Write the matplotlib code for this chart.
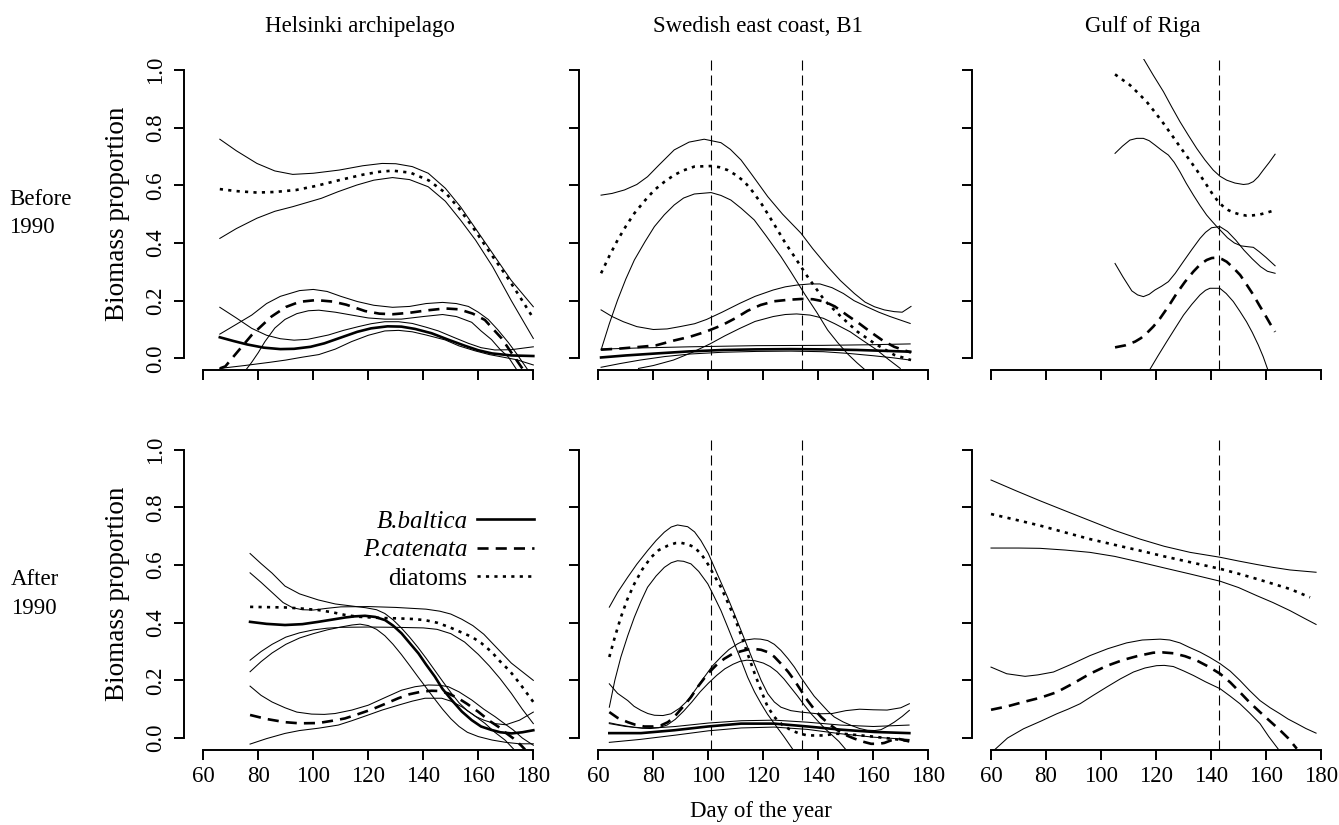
import matplotlib
matplotlib.use("Agg")
import matplotlib.pyplot as plt
from matplotlib.lines import Line2D

plt.rcParams['font.family'] = ['Liberation Serif', 'DejaVu Serif']

# ---- data: (day of year, biomass proportion) ----
# Helsinki archipelago, before 1990
hb_bb = [(66, 0.073), (71, 0.06), (76, 0.048), (82, 0.037), (88, 0.032), (93, 0.033), (99, 0.04), (104, 0.052),
         (110, 0.072), (116, 0.092), (121, 0.104), (127, 0.111), (132, 0.11), (137, 0.102), (143, 0.087),
         (149, 0.065), (155, 0.044), (160, 0.028), (165, 0.017), (172, 0.01), (180, 0.008)]
hb_bb_hi = [(66, 0.177), (72, 0.14), (77.6, 0.104), (83, 0.08), (88, 0.068), (93, 0.063), (98, 0.066),
            (105.5, 0.081), (111, 0.097), (116.4, 0.11), (121, 0.12), (126, 0.127), (131, 0.127), (136, 0.121),
            (141, 0.108), (145.5, 0.095), (151, 0.073), (156.4, 0.052), (161, 0.037), (166, 0.029), (172, 0.03),
            (180, 0.04)]
hb_bb_lo = [(66, -0.035), (75, -0.025), (84, -0.014), (90, -0.006), (96, 0.004), (102, 0.013), (108, 0.032),
            (113.9, 0.058), (120, 0.08), (126, 0.095), (131, 0.097), (136, 0.092), (141, 0.081), (147.9, 0.064),
            (153, 0.043), (158.8, 0.026), (164, 0.013), (168.5, 0.005), (174, -0.005), (180, -0.023)]
hb_pc = [(66, -0.035), (68, -0.028), (71.5, 0.012), (77.6, 0.081), (84.8, 0.145), (90, 0.178), (95, 0.196),
         (101, 0.202), (107, 0.197), (112, 0.186), (118.8, 0.164), (124, 0.155), (129, 0.153), (135, 0.158),
         (141, 0.166), (147.9, 0.173), (153, 0.17), (158, 0.155), (162.4, 0.133), (166, 0.095), (168.5, 0.069),
         (172, 0.02), (176, -0.035)]
hb_pc_hi = [(66, 0.084), (72, 0.118), (77.6, 0.15), (83, 0.19), (88, 0.215), (95, 0.235), (100, 0.239),
            (105, 0.232), (110, 0.215), (116, 0.197), (122, 0.184), (128.8, 0.177), (135, 0.18), (141, 0.19),
            (147, 0.194), (152, 0.19), (156.4, 0.18), (160, 0.16), (163.6, 0.135), (167, 0.1), (170.9, 0.055),
            (174, 0.015), (178, -0.04)]
hb_pc_lo = [(75.5, -0.04), (77.5, -0.015), (80, 0.02), (82.4, 0.058), (86, 0.105), (89.7, 0.135), (94, 0.155),
            (98.2, 0.165), (102, 0.167), (108, 0.16), (114, 0.15), (120, 0.14), (126, 0.136), (132, 0.136),
            (140, 0.145), (147, 0.152), (152, 0.145), (157.6, 0.125), (161, 0.095), (164.8, 0.065), (168, 0.03),
            (170.9, 0.005), (174, -0.04)]
hb_di = [(66, 0.587), (72, 0.58), (79.5, 0.575), (86, 0.577), (93.8, 0.584), (101, 0.598), (109.4, 0.618),
         (118, 0.637), (124, 0.647), (128.8, 0.651), (135.3, 0.644), (142, 0.617), (148.3, 0.572), (153, 0.52),
         (158.7, 0.445), (164, 0.37), (170.4, 0.283), (175, 0.215), (180, 0.139)]
hb_di_hi = [(66, 0.76), (72, 0.72), (79.5, 0.676), (86, 0.65), (92.5, 0.638), (100, 0.642), (109.4, 0.653),
            (118, 0.668), (125, 0.676), (130, 0.675), (136, 0.665), (141.8, 0.642), (148, 0.59), (153.5, 0.526),
            (159, 0.45), (165.2, 0.364), (172, 0.27), (180, 0.179)]
hb_di_lo = [(66, 0.416), (72, 0.45), (79.5, 0.486), (86, 0.51), (92.5, 0.526), (102.9, 0.555), (109, 0.578),
            (115.8, 0.601), (122, 0.618), (128.8, 0.627), (135, 0.62), (141.8, 0.595), (148, 0.545),
            (153.5, 0.48), (159, 0.41), (165.2, 0.318), (172, 0.2), (180, 0.069)]

# Swedish east coast, B1, before 1990
sb_bb = [(61, 0.003), (70, 0.01), (81.2, 0.017), (93, 0.024), (105.5, 0.029), (117, 0.031), (129.7, 0.032),
         (142, 0.031), (154, 0.029), (164, 0.026), (173.4, 0.023)]
sb_bb_hi = [(61, 0.032), (75, 0.036), (93.4, 0.04), (117.6, 0.044), (141.8, 0.045), (158, 0.047), (173.4, 0.05)]
sb_bb_lo = [(61, -0.031), (68, -0.018), (75.2, -0.006), (84, 0.006), (93.4, 0.015), (105, 0.021), (117.6, 0.024),
            (130, 0.025), (141.8, 0.023), (151, 0.017), (160, 0.009), (167, 0.002), (173.4, -0.006)]
sb_pc = [(61, 0.03), (68, 0.034), (75.5, 0.04), (81, 0.045), (87.6, 0.062), (93.4, 0.075), (99, 0.092),
         (105, 0.115), (110, 0.14), (114.3, 0.165), (119, 0.185), (124, 0.198), (129, 0.203), (134, 0.206),
         (138, 0.205), (142.2, 0.197), (146, 0.18), (150.7, 0.148), (155, 0.12), (159.2, 0.09), (163.7, 0.06),
         (167.6, 0.04), (173.7, 0.02)]
sb_pc_hi = [(61, 0.168), (65, 0.145), (69.1, 0.127), (74, 0.11), (80, 0.1), (85, 0.102), (89.7, 0.11), (95, 0.12),
            (99.4, 0.135), (105, 0.16), (111.5, 0.191), (117, 0.215), (123.6, 0.237), (128, 0.248),
            (132.1, 0.254), (137, 0.258), (140.6, 0.258), (145, 0.245), (149.1, 0.225), (153, 0.2),
            (157.6, 0.179), (162, 0.16), (166.1, 0.145), (173.4, 0.121)]
sb_pc_lo = [(74.6, -0.035), (80, -0.025), (87.3, -0.006), (94, 0.02), (100.6, 0.05), (106, 0.078), (111.5, 0.104),
            (117, 0.128), (123.6, 0.145), (128, 0.152), (132.1, 0.154), (137, 0.15), (141.8, 0.139), (146, 0.12),
            (151.6, 0.092), (156, 0.063), (161.3, 0.029), (165, 0.0), (169.8, -0.035)]
sb_di = [(61, 0.295), (64, 0.355), (67, 0.41), (70, 0.458), (73.1, 0.503), (77, 0.548), (80.4, 0.584), (84, 0.612),
         (87.6, 0.636), (91, 0.652), (94.9, 0.665), (101, 0.667), (104, 0.663), (107, 0.653), (110, 0.636),
         (113.1, 0.613), (116, 0.58), (119.2, 0.538), (122, 0.495), (125.2, 0.445), (128, 0.4), (131.3, 0.353),
         (136.1, 0.283), (142.2, 0.202), (148.2, 0.145), (154.3, 0.092), (160.4, 0.052), (167.6, 0.012),
         (173.7, -0.006)]
sb_di_hi = [(61, 0.566), (65, 0.572), (69.5, 0.584), (74, 0.603), (77.9, 0.63), (82, 0.67), (87.6, 0.723),
            (93, 0.75), (98.5, 0.76), (104.6, 0.748), (108, 0.725), (111.9, 0.688), (116, 0.635), (121.6, 0.561),
            (127, 0.5), (133.7, 0.434), (138, 0.38), (143.4, 0.318), (148, 0.27), (153.1, 0.225), (157, 0.195),
            (160.4, 0.179), (164, 0.168), (167.6, 0.162), (170.5, 0.16), (173.7, 0.18)]
sb_di_lo = [(61, 0.029), (64, 0.12), (67, 0.202), (70, 0.275), (73.1, 0.341), (77, 0.405), (80.4, 0.457),
            (84, 0.498), (87.6, 0.532), (91, 0.556), (94.9, 0.57), (101, 0.575), (104.6, 0.565), (108.2, 0.549),
            (112, 0.52), (116.7, 0.48), (121, 0.425), (126.4, 0.353), (130, 0.3), (134.9, 0.225), (139.4, 0.16),
            (143.4, 0.098), (147, 0.055), (150.7, 0.015), (154, -0.015), (157, -0.04)]

# Gulf of Riga, before 1990 (no B. baltica curves)
rb_pc = [(105.1, 0.038), (108.8, 0.045), (112.4, 0.058), (114.5, 0.07), (116.6, 0.087), (119, 0.11),
         (121.5, 0.139), (124.5, 0.18), (127.5, 0.225), (130.5, 0.265), (133.6, 0.301), (136, 0.325),
         (138.4, 0.341), (140.3, 0.348), (142.1, 0.349), (144, 0.344), (145.7, 0.335), (148, 0.315),
         (150.6, 0.289), (153, 0.255), (155.4, 0.22), (157.5, 0.185), (159.7, 0.15), (161.5, 0.12), (163.3, 0.092)]
rb_pc_hi = [(105.1, 0.329), (108, 0.282), (111.2, 0.234), (113.3, 0.22), (115.4, 0.214), (117.5, 0.222),
            (119.6, 0.237), (122, 0.25), (124.5, 0.266), (127, 0.295), (129.9, 0.335), (133, 0.377), (136, 0.416),
            (138, 0.437), (140.2, 0.453), (143.2, 0.457), (146, 0.44), (149, 0.41), (152, 0.375), (155, 0.345),
            (158, 0.318), (160.5, 0.302), (163.3, 0.295)]
rb_pc_lo = [(113, -0.11), (117.8, -0.038), (120.8, 0.01), (123.9, 0.058), (127, 0.105), (130, 0.15), (133, 0.187),
            (136, 0.22), (138, 0.236), (139.6, 0.243), (143.2, 0.243), (145.5, 0.225), (148.1, 0.197),
            (150.5, 0.163), (152.9, 0.127), (155, 0.09), (157.2, 0.046), (159, 0.005), (160.6, -0.038),
            (163, -0.11)]
rb_di = [(105.1, 0.985), (108, 0.965), (110.5, 0.948), (113.5, 0.92), (116.6, 0.89), (119.5, 0.855),
         (122.7, 0.815), (125.7, 0.775), (128.7, 0.734), (131.8, 0.693), (134.8, 0.653), (137.8, 0.61),
         (140.8, 0.566), (142.7, 0.543), (144.5, 0.526), (146.3, 0.514), (148.1, 0.506), (150.5, 0.499),
         (152.9, 0.495), (155.3, 0.496), (157.8, 0.499), (160.5, 0.506), (163.3, 0.514)]
rb_di_hi = [(113, 1.08), (115.4, 1.04), (119, 0.982), (122.7, 0.925), (125.7, 0.872), (128.7, 0.821),
            (131.8, 0.773), (134.8, 0.728), (137.8, 0.688), (140.8, 0.653), (143.2, 0.632), (145.7, 0.618),
            (148.7, 0.608), (151.8, 0.603), (153.6, 0.605), (155.4, 0.613), (157.2, 0.63), (159, 0.653),
            (161.2, 0.68), (163.3, 0.708)]
rb_di_lo = [(105.1, 0.711), (107.8, 0.736), (110.5, 0.757), (113, 0.763), (115.4, 0.763), (117.5, 0.755),
            (119.6, 0.74), (122, 0.722), (124.5, 0.705), (126.6, 0.68), (128.7, 0.647), (131, 0.607),
            (133.6, 0.566), (136, 0.53), (138.4, 0.497), (140.3, 0.476), (142.1, 0.457), (144, 0.438),
            (146, 0.418), (148.5, 0.4), (151, 0.39), (153.5, 0.387), (155.4, 0.385), (157.5, 0.37), (160, 0.35),
            (163.3, 0.321)]

# Helsinki archipelago, after 1990
ha_bb = [(77, 0.403), (83, 0.396), (89.7, 0.392), (96, 0.395), (101.8, 0.403), (107, 0.411), (111.5, 0.418),
         (115, 0.422), (118.8, 0.424), (122.5, 0.42), (126.1, 0.409), (129, 0.39), (132.1, 0.363), (135, 0.33),
         (138.2, 0.294), (141, 0.255), (144.2, 0.213), (147, 0.17), (150.3, 0.132), (154, 0.092), (157.6, 0.062),
         (161, 0.04), (164.8, 0.028), (168, 0.02), (172.1, 0.016), (176, 0.02), (180, 0.027)]
ha_bb_hi = [(77, 0.64), (81, 0.605), (85, 0.572), (89.7, 0.527), (95, 0.5), (101.8, 0.479), (108, 0.465),
            (113.9, 0.458), (119, 0.452), (123, 0.445), (126, 0.432), (129, 0.41), (132, 0.382), (135, 0.35),
            (138, 0.315), (141, 0.277), (144, 0.237), (147, 0.197), (150, 0.158), (153, 0.122), (156, 0.095),
            (159, 0.075), (162, 0.062), (166, 0.05), (170, 0.046), (175, 0.062), (180, 0.09)]
ha_bb_lo = [(77, 0.23), (81, 0.265), (85, 0.295), (90, 0.325), (95, 0.347), (100, 0.362), (105, 0.375),
            (110, 0.385), (114, 0.392), (117, 0.395), (120, 0.39), (123, 0.377), (126, 0.355), (129, 0.325),
            (132, 0.29), (135, 0.252), (138, 0.213), (141, 0.175), (144, 0.137), (147, 0.1), (150, 0.067),
            (153, 0.04), (156, 0.02), (160, 0.005), (165, -0.007), (170, -0.015), (175, -0.02), (180, -0.02)]
ha_pc = [(77, 0.08), (83, 0.066), (89.7, 0.055), (95, 0.051), (101.8, 0.052), (107, 0.06), (111.5, 0.068),
         (116, 0.082), (121.2, 0.099), (126, 0.118), (130.9, 0.138), (135, 0.152), (139.4, 0.161), (143, 0.164),
         (146, 0.163), (149, 0.155), (152.7, 0.138), (156, 0.118), (160, 0.091), (164, 0.06), (167.3, 0.039),
         (170, 0.018), (172.7, -0.001), (175.5, -0.025), (177, -0.04)]
ha_pc_hi = [(77, 0.18), (81, 0.148), (85, 0.125), (89.7, 0.105), (94, 0.09), (99.4, 0.083), (104, 0.082),
            (107.9, 0.085), (114, 0.097), (120, 0.114), (126, 0.14), (132.1, 0.166), (137, 0.178), (141.8, 0.184),
            (146, 0.183), (149.1, 0.178), (153, 0.16), (157.6, 0.132), (162, 0.1), (166.1, 0.074), (169.5, 0.05),
            (172.7, 0.028), (176, 0.0), (180, -0.025)]
ha_pc_lo = [(77, -0.021), (83, -0.002), (89.7, 0.016), (95, 0.026), (101.8, 0.034), (109.1, 0.045), (114, 0.06),
            (120, 0.08), (125, 0.097), (130.9, 0.114), (136, 0.128), (140.6, 0.138), (146.7, 0.138), (150, 0.128),
            (153.9, 0.109), (158, 0.082), (162.4, 0.051), (166, 0.02), (169.7, -0.007), (173, -0.04)]
ha_di = [(77, 0.455), (83, 0.454), (89.7, 0.453), (96, 0.449), (101.8, 0.444), (107, 0.436), (111.5, 0.427),
         (116, 0.421), (121.2, 0.418), (126, 0.416), (130.9, 0.415), (136, 0.413), (140.6, 0.409), (145, 0.4),
         (149.1, 0.386), (153, 0.37), (157.6, 0.351), (161, 0.33), (164.8, 0.299), (168, 0.265), (171.5, 0.232),
         (175, 0.19), (180, 0.125)]
ha_di_hi = [(77, 0.573), (81, 0.54), (85, 0.505), (89, 0.47), (92.5, 0.452), (96, 0.445), (100, 0.444),
            (105, 0.45), (110, 0.455), (120, 0.456), (130, 0.453), (141, 0.447), (146, 0.44), (150, 0.43),
            (154, 0.412), (158, 0.39), (162, 0.36), (165, 0.33), (168, 0.3), (172, 0.26), (176, 0.23), (180, 0.2)]
ha_di_lo = [(77, 0.27), (81, 0.3), (85, 0.325), (90, 0.35), (95, 0.365), (100, 0.375), (105, 0.381), (110, 0.384),
            (120, 0.385), (130, 0.384), (140, 0.382), (145, 0.377), (150, 0.362), (155, 0.333), (160, 0.29),
            (164, 0.25), (168, 0.205), (172, 0.155), (176, 0.1), (180, 0.05)]

# Swedish east coast, B1, after 1990
sa_bb = [(64, 0.017), (75.5, 0.017), (87.6, 0.027), (99.8, 0.04), (111.9, 0.05), (124, 0.05), (136.1, 0.04),
         (148.2, 0.029), (160.4, 0.021), (173.1, 0.017)]
sa_bb_hi = [(64, 0.05), (70, 0.04), (76, 0.035), (82, 0.036), (88, 0.04), (100, 0.052), (112, 0.06), (124, 0.062),
            (136, 0.055), (148, 0.045), (160, 0.04), (173, 0.045)]
sa_bb_lo = [(64, -0.015), (75, -0.005), (88, 0.01), (100, 0.025), (112, 0.035), (124, 0.038), (136, 0.03),
            (148, 0.015), (160, 0.003), (173, -0.005)]
sa_pc = [(64, 0.09), (67, 0.07), (70.7, 0.055), (73.5, 0.046), (76.7, 0.04), (79.8, 0.04), (82.8, 0.044),
         (85.3, 0.055), (87.6, 0.073), (90.5, 0.105), (93.7, 0.142), (96.5, 0.182), (99.8, 0.223), (102.8, 0.252),
         (105.8, 0.275), (108.8, 0.292), (111.9, 0.301), (114.3, 0.307), (116.7, 0.309), (119.2, 0.306),
         (121.6, 0.298), (124, 0.282), (126.4, 0.258), (129, 0.23), (131.3, 0.2), (133.7, 0.165), (136.1, 0.13),
         (138.5, 0.1), (141, 0.073), (144, 0.048), (147, 0.027), (150, 0.01), (153.1, -0.002), (156, -0.012),
         (159.2, -0.02), (162, -0.02), (164, -0.017), (166.5, -0.008), (168.8, -0.002), (171, -0.007),
         (173.1, -0.012)]
sa_pc_hi = [(64, 0.188), (67, 0.155), (70.7, 0.13), (73, 0.11), (75.5, 0.096), (78, 0.085), (80.4, 0.079),
            (83.5, 0.078), (86.4, 0.084), (89.5, 0.103), (92.5, 0.13), (95.5, 0.17), (98.5, 0.211), (101.5, 0.25),
            (104.6, 0.281), (107.5, 0.307), (110.7, 0.327), (113.5, 0.34), (116.7, 0.344), (119, 0.343),
            (121.6, 0.338), (124, 0.325), (126.4, 0.304), (129, 0.275), (131.3, 0.246), (133.7, 0.21),
            (136.1, 0.177), (138.5, 0.145), (141, 0.119), (143.5, 0.093), (145.8, 0.073), (149, 0.056),
            (151.9, 0.044), (155, 0.033), (157.9, 0.027), (160.5, 0.026), (162.8, 0.029), (165, 0.04),
            (167.6, 0.055), (170.5, 0.075), (173.1, 0.096)]
sa_pc_lo = [(64, 0.053), (67, 0.047), (70, 0.042), (73, 0.037), (76, 0.034), (79, 0.033), (82, 0.036), (85, 0.045),
            (88, 0.065), (91, 0.093), (94, 0.125), (97, 0.16), (100, 0.19), (103, 0.217), (106, 0.24),
            (109, 0.256), (111.5, 0.266), (114, 0.27), (117, 0.268), (120, 0.26), (122.5, 0.248), (125, 0.23),
            (127.5, 0.205), (130, 0.175), (132.5, 0.145), (135, 0.113), (137.5, 0.083), (140, 0.057),
            (142.5, 0.032), (145, 0.01), (147.5, -0.012), (150, -0.04)]
sa_di = [(64, 0.281), (66, 0.35), (68.2, 0.419), (70.5, 0.48), (73.1, 0.535), (76, 0.585), (79.2, 0.627),
         (82, 0.652), (85.2, 0.667), (88, 0.676), (90.1, 0.677), (92.5, 0.672), (94.9, 0.662), (97.5, 0.637),
         (99.8, 0.604), (102, 0.566), (104.6, 0.523), (107, 0.472), (109.5, 0.419), (112, 0.355), (114.3, 0.292),
         (116.8, 0.225), (119.2, 0.165), (121.5, 0.11), (124, 0.073), (127, 0.045), (130.1, 0.027), (133, 0.016),
         (136.1, 0.009), (142.2, 0.009), (146, 0.015), (150, 0.014), (160, 0.005), (167, -0.003), (173, -0.01)]
sa_di_hi = [(64, 0.454), (67, 0.505), (70.7, 0.558), (74, 0.603), (77.9, 0.65), (81, 0.685), (84, 0.714),
            (86.5, 0.732), (88.8, 0.739), (92.5, 0.733), (95, 0.715), (97.3, 0.685), (100, 0.64), (102.2, 0.592),
            (104.6, 0.54), (107, 0.488), (109.5, 0.43), (111.9, 0.373), (114.3, 0.315), (116.7, 0.258),
            (119.2, 0.2), (121.6, 0.154), (124, 0.125), (126.4, 0.107), (130, 0.095), (133.7, 0.09),
            (139.8, 0.084), (145, 0.085), (150, 0.095), (155, 0.1), (160, 0.098), (165, 0.097), (170, 0.105),
            (173.1, 0.119)]
sa_di_lo = [(64, 0.107), (66, 0.2), (68.2, 0.281), (70.7, 0.355), (73.1, 0.419), (75.5, 0.474), (77.9, 0.523),
            (81, 0.562), (84, 0.592), (86.5, 0.608), (88.8, 0.615), (91, 0.613), (93.7, 0.604), (96.5, 0.578),
            (99.8, 0.535), (102, 0.493), (104.6, 0.442), (107, 0.386), (109.5, 0.327), (112, 0.268),
            (114.3, 0.211), (116.8, 0.16), (119.2, 0.119), (121.5, 0.083), (124, 0.05), (127.5, 0.005),
            (130.7, -0.039)]

# Gulf of Riga, after 1990 (no B. baltica curves)
ra_pc = [(60, 0.098), (66, 0.11), (71.8, 0.125), (78, 0.14), (83.9, 0.159), (90, 0.19), (96, 0.223), (102, 0.25),
         (108.1, 0.271), (113.5, 0.285), (119, 0.296), (122.5, 0.297), (126.3, 0.294), (130.5, 0.284),
         (134.8, 0.269), (139, 0.248), (143.3, 0.223), (147, 0.193), (150.5, 0.159), (154, 0.124), (157.8, 0.09),
         (161.5, 0.058), (165.1, 0.027), (168, 0.0), (171.2, -0.037)]
ra_pc_hi = [(60, 0.246), (65.7, 0.223), (72.4, 0.214), (77, 0.219), (82.7, 0.229), (89, 0.255), (96, 0.286),
            (102.5, 0.31), (109.3, 0.33), (115, 0.34), (121.5, 0.343), (125, 0.34), (128.7, 0.33), (132, 0.315),
            (136, 0.298), (139.5, 0.28), (143.3, 0.258), (147, 0.232), (150.5, 0.2), (154, 0.165), (157.8, 0.13),
            (161.5, 0.105), (165.1, 0.084), (168, 0.066), (171.2, 0.05), (174.5, 0.033), (178.2, 0.017)]
ra_pc_lo = [(60, -0.055), (61.5, -0.039), (66, 0.0), (71.8, 0.032), (78, 0.058), (83.9, 0.084), (88, 0.1),
            (92.4, 0.119), (97, 0.147), (102.1, 0.177), (107, 0.205), (111.8, 0.229), (116, 0.243), (120.2, 0.251),
            (123, 0.252), (126.3, 0.248), (130, 0.233), (133.6, 0.217), (138, 0.195), (143.3, 0.171), (147, 0.145),
            (150.5, 0.119), (154, 0.087), (157.8, 0.05), (161, 0.005), (164.5, -0.039), (167, -0.07)]
ra_di = [(60, 0.777), (69, 0.757), (77.8, 0.737), (87, 0.713), (96, 0.69), (105, 0.67), (114.2, 0.65), (123, 0.63),
         (132.4, 0.61), (143.3, 0.587), (150, 0.57), (156.6, 0.552), (162.5, 0.535), (168.7, 0.517), (176, 0.488)]
ra_di_hi = [(60, 0.895), (69, 0.858), (77.8, 0.823), (87, 0.788), (96, 0.754), (105, 0.72), (114.2, 0.69),
            (123, 0.665), (132.4, 0.644), (143.3, 0.627), (150, 0.614), (156.6, 0.602), (162.5, 0.592),
            (168.7, 0.583), (178.2, 0.575)]
ra_di_lo = [(60, 0.659), (70, 0.659), (77.8, 0.658), (87, 0.652), (96, 0.644), (105, 0.63), (114.2, 0.61),
            (123, 0.59), (132.4, 0.569), (143.3, 0.544), (150, 0.522), (156.6, 0.494), (162.5, 0.47),
            (168.7, 0.442), (174, 0.415), (178.2, 0.394)]

site_names = ["Helsinki archipelago", "Swedish east coast, B1", "Gulf of Riga"]
period_names = [["Before", "1990"], ["After", "1990"]]
species_names = ["B.baltica", "P.catenata", "diatoms"]
event_days = [[], [101, 134], [143]]
x_ticks = [60, 80, 100, 120, 140, 160, 180]
y_ticks = [0.0, 0.2, 0.4, 0.6, 0.8, 1.0]

panels = [
    [dict(bb=(hb_bb, hb_bb_lo, hb_bb_hi), pc=(hb_pc, hb_pc_lo, hb_pc_hi), di=(hb_di, hb_di_lo, hb_di_hi)),
     dict(bb=(sb_bb, sb_bb_lo, sb_bb_hi), pc=(sb_pc, sb_pc_lo, sb_pc_hi), di=(sb_di, sb_di_lo, sb_di_hi)),
     dict(pc=(rb_pc, rb_pc_lo, rb_pc_hi), di=(rb_di, rb_di_lo, rb_di_hi))],
    [dict(bb=(ha_bb, ha_bb_lo, ha_bb_hi), pc=(ha_pc, ha_pc_lo, ha_pc_hi), di=(ha_di, ha_di_lo, ha_di_hi)),
     dict(bb=(sa_bb, sa_bb_lo, sa_bb_hi), pc=(sa_pc, sa_pc_lo, sa_pc_hi), di=(sa_di, sa_di_lo, sa_di_hi)),
     dict(pc=(ra_pc, ra_pc_lo, ra_pc_hi), di=(ra_di, ra_di_lo, ra_di_hi))],
]

# ---- styles ----
MAIN_LW = 1.9
CI_LW = 0.75
main_style = {
    'bb': dict(linestyle='-'),
    'pc': dict(linestyle=(0, (4.2, 2.7))),
    'di': dict(linestyle=(0, (1.2, 2.0))),
}

W, H = 1339, 825
fig = plt.figure(figsize=(W / 100, H / 100), dpi=100)

XLIM = (53.12, 184.88)
YLIM = (-0.04, 1.04)
AX_W = (XLIM[1] - XLIM[0]) * 2.75
AX_H = (YLIM[1] - YLIM[0]) * 288.3
col_left = [184.4, 579.4, 972.1]
row_top = [58.5, 438.2]


def xy(pts):
    return [p[0] for p in pts], [p[1] for p in pts]


axes = {}
for r in range(2):
    for c in range(3):
        ax = fig.add_axes([col_left[c] / W, 1 - (row_top[r] + AX_H) / H, AX_W / W, AX_H / H])
        axes[r, c] = ax
        ax.set_xlim(*XLIM)
        ax.set_ylim(*YLIM)
        ax.patch.set_alpha(0)

        for d in event_days[c]:
            ax.axvline(d, color='black', lw=0.8, linestyle=(0, (9, 4.5)))

        for key, (mean, lo, hi) in panels[r][c].items():
            for band in (lo, hi):
                ax.plot(*xy(band), color='black', lw=CI_LW, solid_joinstyle='round')
            ax.plot(*xy(mean), color='black', lw=MAIN_LW, dash_capstyle='butt', **main_style[key])

        for s in ('top', 'right'):
            ax.spines[s].set_visible(False)
        ax.spines['left'].set_bounds(0, 1)
        ax.spines['bottom'].set_bounds(60, 180)
        for s in ('left', 'bottom'):
            ax.spines[s].set_linewidth(1.4)
        ax.set_xticks(x_ticks)
        ax.set_yticks(y_ticks)
        ax.set_yticklabels([f"{v:.1f}" for v in y_ticks])
        ax.tick_params(direction='out', length=7.5, width=1.4, labelsize=16.5, pad=4)
        ax.tick_params(axis='y', pad=6)
        plt.setp(ax.get_yticklabels(), rotation=90, va='center', ha='right')
        if c > 0:
            ax.tick_params(labelleft=False)
        if r == 0:
            ax.tick_params(labelbottom=False)


def fig_text(x_px, y_px, s, **kw):
    fig.text(x_px / W, 1 - y_px / H, s, **kw)


for c, (name, xc) in enumerate(zip(site_names, [360, 757.5, 1142.5])):
    fig_text(xc, 32, name, ha='center', va='baseline', fontsize=16.5)

for r, yc in enumerate([214, 594]):
    fig_text(118, yc, "Biomass proportion", rotation=90, ha='center', va='center', fontsize=19.5)

for (first, second), (y1, y2), x0 in zip(period_names, [(205, 233), (585, 614)], [9, 11]):
    fig_text(x0, y1, first, ha='left', va='baseline', fontsize=16.5)
    fig_text(x0, y2, second, ha='left', va='baseline', fontsize=16.5)

fig_text(761, 817, "Day of the year", ha='center', va='baseline', fontsize=16.5)

handles = [Line2D([], [], color='black', lw=MAIN_LW, dash_capstyle='butt', **main_style[k])
           for k in ('bb', 'pc', 'di')]
leg = axes[1, 0].legend(handles, species_names, markerfirst=False, frameon=False, fontsize=18,
                        loc='upper right', bbox_to_anchor=(534 / W, 1 - 510 / H),
                        bbox_transform=fig.transFigure, borderpad=0, borderaxespad=0,
                        handlelength=2.3, handletextpad=0.36, labelspacing=0.25)
leg.get_texts()[0].set_style('italic')
leg.get_texts()[1].set_style('italic')

fig.savefig("out.png", dpi=100)
